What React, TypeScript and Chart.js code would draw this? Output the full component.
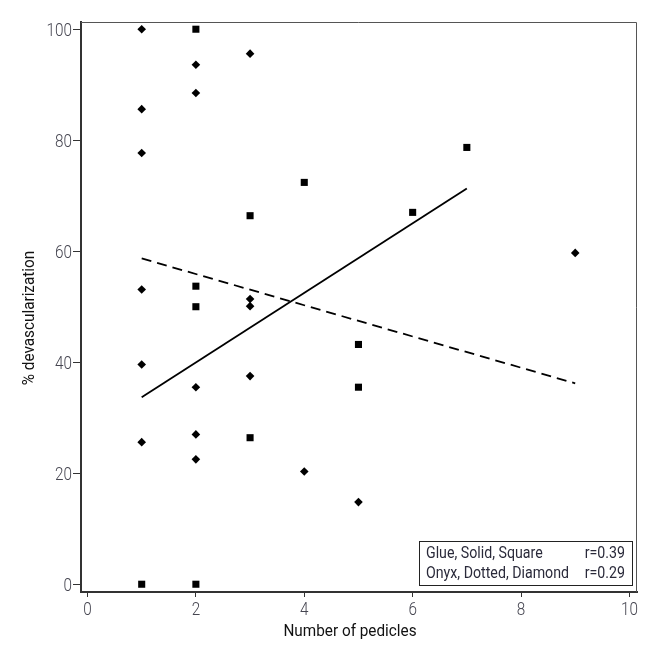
import React, { useEffect, useRef } from 'react';
import { Chart, registerables } from 'chart.js';

Chart.register(...registerables);

// Glue (squares)
const glueX = [1, 2, 2, 2, 2, 3, 3, 4, 5, 5, 6, 7];
const glueY = [0, 100, 53.7, 50, 0, 66.4, 26.4, 72.4, 43.2, 35.5, 67, 78.7];
// Onyx (diamonds)
const onyxX = [1, 1, 1, 1, 1, 1, 2, 2, 2, 2, 2, 3, 3, 3, 3, 4, 5, 9];
const onyxY = [100, 85.6, 77.7, 53.1, 39.6, 25.6, 93.6, 88.5, 35.5, 27, 22.5, 95.6, 51.4, 50.1, 37.5, 20.3, 14.8, 59.7];
// Fit lines (endpoints)
const glueFitX = [1, 7];
const glueFitY = [33.7, 71.3];
const onyxFitX = [1, 9];
const onyxFitY = [58.7, 36.2];

const xTicks = [0, 2, 4, 6, 8, 10];
const yTicks = [0, 20, 40, 60, 80, 100];
const xTitle = 'Number of pedicles';
const yTitle = '% devascularization';
const legendLabels = ['Glue, Solid, Square', 'Onyx, Dotted, Diamond'];
const legendR = ['r=0.39', 'r=0.29'];

const FONT = 'Roboto, "Noto Sans", sans-serif';
const TICK_COLOR = '#454550';

const zip = (xs: number[], ys: number[]) => xs.map((x, i) => ({ x, y: ys[i] }));

function narrowText(ctx: any, text: string, x: number, y: number, align: 'left' | 'right' | 'center', sx: number) {
  ctx.save();
  ctx.translate(x, y);
  ctx.scale(sx, 1);
  ctx.textAlign = align;
  ctx.fillText(text, 0, 0);
  ctx.restore();
}

const decor = {
  id: 'decor',
  beforeDatasetsDraw(chart: any) {
    const { ctx, chartArea: a } = chart;
    ctx.save();
    ctx.strokeStyle = '#555';
    ctx.lineWidth = 1;
    ctx.beginPath();
    ctx.moveTo(a.left, a.top + 0.5);
    ctx.lineTo(a.right - 0.5, a.top + 0.5);
    ctx.lineTo(a.right - 0.5, a.bottom);
    ctx.stroke();
    ctx.restore();
  },
  afterDraw(chart: any) {
    const { ctx, chartArea: a, scales } = chart;
    // tick labels
    ctx.save();
    ctx.fillStyle = TICK_COLOR;
    ctx.font = `300 18px ${FONT}`;
    ctx.textBaseline = 'alphabetic';
    xTicks.forEach((v) => {
      narrowText(ctx, String(v), scales.x.getPixelForValue(v), a.bottom + 23, 'center', 0.85);
    });
    yTicks.forEach((v) => {
      narrowText(ctx, String(v), a.left - 9, scales.y.getPixelForValue(v) + 6.4, 'right', 0.85);
    });
    ctx.restore();

    // axis titles
    ctx.save();
    ctx.fillStyle = '#111';
    ctx.font = `17px ${FONT}`;
    ctx.textBaseline = 'middle';
    narrowText(ctx, xTitle, a.left + 269, a.bottom + 40, 'center', 0.9);
    ctx.translate(22, a.top + 296);
    ctx.rotate(-Math.PI / 2);
    narrowText(ctx, yTitle, 0, 0, 'center', 0.9);
    ctx.restore();

    // legend box
    const bx = a.right - 218, by = a.bottom - 51, bw = 213, bh = 44;
    ctx.save();
    ctx.fillStyle = '#fff';
    ctx.fillRect(bx, by, bw, bh);
    ctx.strokeStyle = '#222';
    ctx.lineWidth = 1;
    ctx.strokeRect(bx + 0.5, by + 0.5, bw, bh);
    ctx.font = `16.5px ${FONT}`;
    ctx.fillStyle = '#2a2a3a';
    ctx.textBaseline = 'middle';
    legendLabels.forEach((l, i) => {
      narrowText(ctx, l, bx + 7, by + 13 + i * 20, 'left', 0.86);
      narrowText(ctx, legendR[i], bx + bw - 7, by + 13 + i * 20, 'right', 0.86);
    });
    ctx.restore();
  },
};

export default function App() {
  const ref = useRef<HTMLCanvasElement>(null);
  useEffect(() => {
    if (!ref.current) return;
    const chart = new Chart(ref.current, {
      type: 'scatter',
      data: {
        datasets: [
          {
            label: 'Glue fit',
            type: 'line',
            data: zip(glueFitX, glueFitY),
            borderColor: '#000',
            borderWidth: 1.8,
            pointRadius: 0,
            fill: false,
          } as any,
          {
            label: 'Onyx fit',
            type: 'line',
            data: zip(onyxFitX, onyxFitY),
            borderColor: '#000',
            borderWidth: 1.8,
            borderDash: [10, 6],
            pointRadius: 0,
            fill: false,
          } as any,
          {
            label: 'Glue',
            data: zip(glueX, glueY),
            pointStyle: 'rect',
            pointRadius: 5,
            backgroundColor: '#000',
            borderColor: '#000',
            borderWidth: 0,
          },
          {
            label: 'Onyx',
            data: zip(onyxX, onyxY),
            pointStyle: 'rectRot',
            pointRadius: 4.3,
            backgroundColor: '#000',
            borderColor: '#000',
            borderWidth: 0,
          },
        ],
      },
      options: {
        animation: false,
        responsive: false,
        layout: { padding: { top: 14, right: 16, left: 0, bottom: 0 } },
        plugins: { legend: { display: false }, tooltip: { enabled: false } },
        scales: {
          x: {
            type: 'linear',
            min: -0.12,
            max: 10.14,
            afterBuildTicks: (s: any) => { s.ticks = xTicks.map((v) => ({ value: v })); },
            afterFit: (s: any) => { s.height = 55; },
            grid: { display: true, drawOnChartArea: false, drawTicks: true, tickLength: 5, color: '#333', lineWidth: 1 },
            border: { display: true, color: '#333', width: 2 },
            ticks: { display: false },
          },
          y: {
            type: 'linear',
            min: -1.4,
            max: 101.3,
            afterBuildTicks: (s: any) => { s.ticks = yTicks.map((v) => ({ value: v })); },
            afterFit: (s: any) => { s.width = 73; },
            grid: { display: true, drawOnChartArea: false, drawTicks: true, tickLength: 8, color: '#333', lineWidth: 1 },
            border: { display: true, color: '#333', width: 2 },
            ticks: { display: false },
          },
        },
      },
      plugins: [decor],
    });
    return () => chart.destroy();
  }, []);
  return (
    <div style={{ width: 645, height: 639 }}>
      <canvas ref={ref} width={645} height={639} style={{ display: 'block' }} />
    </div>
  );
}
